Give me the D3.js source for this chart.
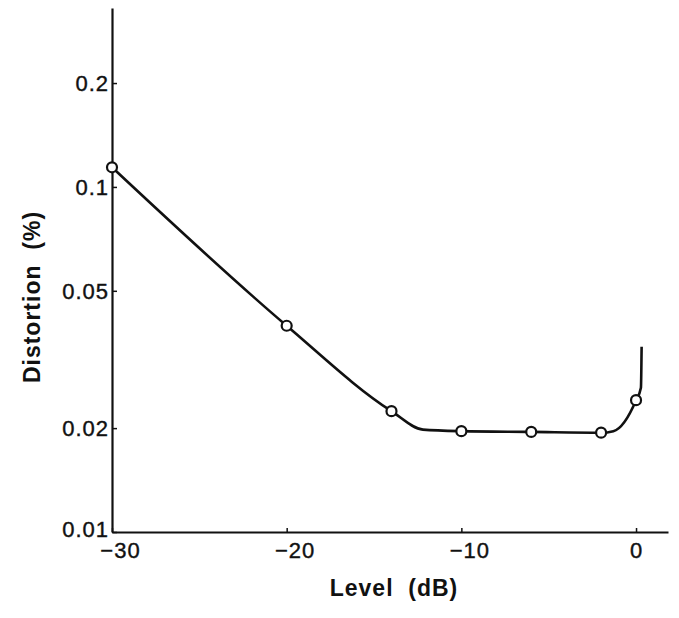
<!DOCTYPE html>
<html>
<head>
<meta charset="utf-8">
<script src="https://cdn.jsdelivr.net/npm/d3@7"></script>
<style>
  html, body { margin: 0; padding: 0; background: #fff; }
  svg { display: block; }
  .tick text { font-family: "Liberation Sans", Arial, sans-serif; }
</style>
</head>
<body>
<div id="chart"></div>
<script>
// Measured points (level in dB, distortion in %)
const levels = [-30, -20, -14, -10, -6, -2, 0];
const distortion = [0.114, 0.0396, 0.0224, 0.0196, 0.0195, 0.0194, 0.0241];

// Hand-drawn curve through the points
const curveLevels = [-30, -20, -14, -12.2, -10, -6, -2, -1.3, 0, 0.28, 0.32];
const curveValues = [0.114, 0.0396, 0.0224, 0.0198, 0.0196, 0.0195, 0.0194, 0.0196, 0.0241, 0.0262, 0.0344];

const xTicks = [-30, -20, -10, 0];
const yTicks = [0.01, 0.02, 0.05, 0.1, 0.2];

const width = 679, height = 618;

const svg = d3.select('#chart')
    .append('svg')
    .attr('width', width)
    .attr('height', height);

const x = d3.scaleLinear().domain([-30, 1.83]).range([112, 668]);
const y = d3.scaleLog().domain([0.01, 0.33]).range([532, 8]);

const fmtX = d => d < 0 ? '\u2212' + Math.abs(d) : String(d);

// x axis
const xAxis = svg.append('g')
    .attr('transform', `translate(0,${y.range()[0]})`)
    .call(d3.axisBottom(x).tickValues(xTicks).tickSize(-4).tickSizeOuter(0).tickFormat(fmtX));
xAxis.select('.domain').attr('stroke', '#111').attr('stroke-width', 2.2);
xAxis.selectAll('.tick line').attr('stroke', '#111').attr('stroke-width', 1.5);
xAxis.selectAll('.tick text')
    .attr('font-size', 22)
    .attr('fill', '#111')
    .attr('stroke', '#111')
    .attr('stroke-width', 0.4)
    .attr('letter-spacing', 1)
    .attr('y', 10)
    .attr('dx', d => d < 0 ? 8 : 0);

// y axis
const yAxis = svg.append('g')
    .attr('transform', `translate(${x.range()[0]},0)`)
    .call(d3.axisLeft(y).tickValues(yTicks).tickSize(-5).tickSizeOuter(0).tickFormat(d => String(d)));
yAxis.select('.domain').attr('stroke', '#111').attr('stroke-width', 2.2);
yAxis.selectAll('.tick line').attr('stroke', '#111').attr('stroke-width', 1.5);
yAxis.selectAll('.tick text')
    .attr('font-size', 22)
    .attr('fill', '#111')
    .attr('stroke', '#111')
    .attr('stroke-width', 0.4)
    .attr('letter-spacing', 1)
    .attr('x', -3)
    .attr('dy', d => d === 0.01 ? '0.2em' : '0.35em');

// axis titles
svg.append('text')
    .attr('x', 394)
    .attr('y', 596)
    .attr('text-anchor', 'middle')
    .attr('font-family', '"Liberation Sans", Arial, sans-serif')
    .attr('font-weight', 'bold')
    .attr('font-size', 23)
    .attr('letter-spacing', 1)
    .attr('fill', '#111')
    .attr('xml:space', 'preserve')
    .text('Level  (dB)');

svg.append('text')
    .attr('transform', 'translate(40,297) rotate(-90)')
    .attr('text-anchor', 'middle')
    .attr('font-family', '"Liberation Sans", Arial, sans-serif')
    .attr('font-weight', 'bold')
    .attr('font-size', 23)
    .attr('letter-spacing', 1)
    .attr('fill', '#111')
    .attr('xml:space', 'preserve')
    .text('Distortion  (%)');

// curve
const curveData = curveLevels.map((l, i) => ({ l, v: curveValues[i] }));
const line = d3.line()
    .x(d => x(d.l))
    .y(d => y(d.v))
    .curve(d3.curveMonotoneX);

svg.append('path')
    .datum(curveData)
    .attr('d', line)
    .attr('fill', 'none')
    .attr('stroke', '#111')
    .attr('stroke-width', 2.6)
    .attr('stroke-linejoin', 'round');

// markers
const points = levels.map((l, i) => ({ l, v: distortion[i] }));
svg.append('g')
    .selectAll('circle')
    .data(points)
    .join('circle')
    .attr('cx', d => x(d.l))
    .attr('cy', d => y(d.v))
    .attr('r', 5)
    .attr('fill', '#fff')
    .attr('stroke', '#111')
    .attr('stroke-width', 2.2);
</script>
</body>
</html>
